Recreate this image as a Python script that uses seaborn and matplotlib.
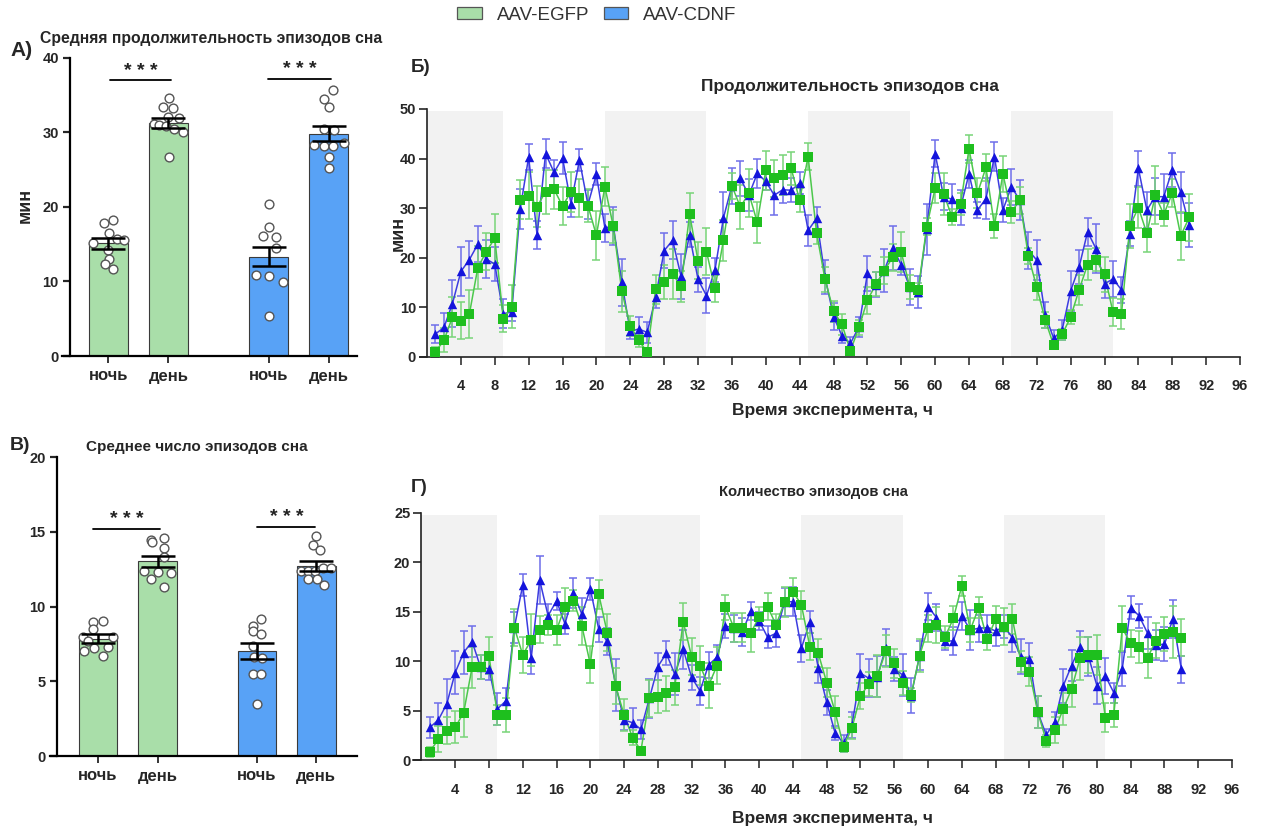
import numpy as np
import pandas as pd
import matplotlib
matplotlib.use("Agg")
import matplotlib.pyplot as plt
import seaborn as sns
from matplotlib.patches import Patch

# ---------------- data ----------------
GROUPS = ["AAV-EGFP", "AAV-CDNF"]
PERIODS = ["ночь", "день", "ночь", "день"]

# mean sleep-episode duration, min (night/day per group)
DUR_MEAN = [15.1, 31.3, 13.3, 29.8]
DUR_SEM = [0.70, 0.67, 1.27, 1.00]
DUR_DOTS = [
    [17.79, 18.28, 16.54, 15.20, 15.69, 15.60, 14.20, 12.96, 12.30, 11.70],
    [34.55, 33.34, 33.21, 32.09, 31.87, 31.11, 30.97, 30.84, 30.39, 29.99, 26.73],
    [20.42, 17.30, 16.04, 15.91, 14.48, 10.91, 10.73, 9.97, 5.32],
    [35.62, 34.50, 33.34, 30.44, 30.30, 28.29, 28.16, 28.20, 28.60, 26.64, 25.21],
]
DUR_JITTER = [
    [-0.075, 0.069, 0.003, -0.258, 0.142, 0.264, -0.005, 0.003, -0.058, 0.075],
    [0.003, -0.092, 0.081, 0.0, 0.169, -0.247, -0.158, -0.047, 0.086, 0.242, 0.003],
    [0.008, 0.008, -0.097, 0.119, 0.114, -0.208, 0.003, 0.231, 0.003],
    [0.069, -0.086, 0.003, -0.081, 0.081, -0.247, -0.081, 0.075, 0.247, 0.003, 0.003],
]

# mean number of sleep episodes
CNT_MEAN = [7.86, 13.04, 7.03, 12.72]
CNT_SEM = [0.28, 0.37, 0.54, 0.36]
CNT_DOTS = [
    [9.00, 9.02, 8.48, 7.95, 7.95, 7.68, 7.30, 7.21, 7.01, 6.72],
    [14.46, 14.31, 14.62, 13.91, 13.35, 12.41, 12.34, 12.25, 11.83, 11.34],
    [9.20, 8.73, 8.35, 8.19, 7.37, 6.65, 6.56, 5.51, 5.51, 3.50],
    [14.71, 14.13, 13.79, 12.39, 12.39, 12.39, 12.61, 12.61, 11.85, 11.85, 11.43],
]
CNT_JITTER = [
    [-0.087, 0.076, -0.076, -0.249, 0.249, -0.176, 0.165, -0.070, -0.238, 0.092],
    [-0.104, -0.098, 0.109, 0.115, 0.109, -0.221, 0.003, 0.227, -0.104, 0.115],
    [0.064, -0.059, -0.064, 0.064, -0.064, -0.053, 0.081, -0.064, 0.064, 0.0],
    [0.0, -0.059, 0.064, -0.266, -0.143, -0.020, 0.109, 0.249, -0.143, 0.008, 0.132],
]

# hourly time course (hour 1..90)
HOURS = np.arange(1, 91)
NIGHTS = [(0, 9), (21, 33), (45, 57), (69, 81)]

DUR_CDNF = [4.6, 5.9, 10.7, 17.2, 19.6, 22.7, 19.7, 18.7, 8.7, 9.0,
            29.8, 40.3, 24.5, 41.0, 37.2, 40.1, 30.9, 39.7, 30.7, 36.8,
            26.0, 26.4, 15.0, 5.1, 5.6, 4.9, 12.0, 21.4, 23.5, 16.2,
            24.6, 15.6, 12.3, 17.5, 28.0, 34.5, 36.0, 32.6, 37.0, 35.4,
            32.6, 33.7, 33.6, 35.0, 25.5, 27.9, 16.1, 8.1, 4.2, 2.7,
            6.0, 16.8, 14.5, 17.4, 22.0, 18.5, 14.1, 13.0, 25.7, 41.0,
            32.3, 31.8, 30.1, 36.9, 29.6, 31.9, 40.4, 29.6, 34.3, 31.6,
            21.5, 19.5, 8.4, 3.7, 5.4, 13.3, 18.1, 25.2, 21.8, 14.7,
            15.7, 13.5, 24.8, 38.0, 29.6, 32.3, 32.3, 37.7, 33.2, 26.6]
DUR_CDNF_ERR = [1.8, 2.9, 4.8, 5.0, 3.7, 3.6, 3.8, 3.5, 3.0, 1.7,
                4.1, 2.7, 2.8, 2.9, 2.6, 3.2, 2.8, 2.2, 2.9, 2.2,
                2.8, 3.9, 4.7, 1.6, 2.5, 2.2, 2.1, 3.5, 3.8, 4.6,
                2.5, 2.6, 3.5, 2.4, 5.2, 3.6, 3.5, 3.2, 3.0, 1.7,
                4.0, 2.6, 2.4, 2.2, 3.2, 2.4, 3.4, 2.7, 1.5, 1.2,
                2.1, 3.6, 2.5, 4.4, 4.4, 2.0, 3.7, 3.2, 5.2, 2.7,
                2.7, 3.0, 3.5, 2.8, 1.7, 4.1, 3.0, 2.4, 3.6, 4.0,
                3.7, 4.0, 2.7, 1.7, 2.0, 4.0, 3.4, 2.8, 4.9, 2.8,
                3.7, 2.6, 2.5, 3.5, 3.7, 3.7, 4.5, 3.4, 4.1, 4.4]
DUR_EGFP = [1.0, 3.3, 8.0, 7.3, 8.6, 18.0, 21.2, 23.9, 7.7, 10.1,
            31.7, 32.5, 30.3, 33.3, 33.8, 30.4, 33.3, 32.0, 30.5, 24.5,
            34.3, 26.3, 13.2, 6.2, 3.3, 0.9, 13.6, 15.1, 16.7, 14.2,
            28.8, 19.4, 21.2, 13.8, 23.5, 34.5, 30.2, 33.0, 27.1, 37.6,
            36.0, 36.7, 38.0, 31.6, 40.4, 25.0, 15.6, 9.2, 6.5, 1.2,
            5.9, 11.4, 14.6, 17.4, 20.1, 21.1, 14.1, 13.4, 26.2, 34.0,
            32.9, 28.2, 30.8, 41.9, 33.0, 38.2, 26.4, 36.9, 29.2, 31.6,
            20.4, 14.0, 7.4, 2.3, 4.5, 8.0, 13.5, 18.6, 19.6, 16.6,
            9.0, 8.6, 26.4, 30.1, 24.9, 32.6, 28.7, 33.0, 24.4, 28.1]
DUR_EGFP_ERR = [1.0, 2.4, 4.1, 3.7, 4.8, 4.3, 3.7, 5.0, 2.8, 4.3,
                4.0, 4.8, 4.2, 4.4, 3.9, 3.8, 4.0, 3.8, 3.4, 4.9,
                3.9, 3.4, 4.2, 2.0, 1.3, 0.7, 2.9, 3.4, 5.0, 3.1,
                4.2, 3.8, 4.8, 2.7, 4.1, 2.6, 4.5, 4.8, 4.2, 3.9,
                3.8, 4.0, 3.4, 2.4, 2.7, 2.2, 2.5, 2.1, 2.2, 0.8,
                1.5, 2.7, 2.4, 2.8, 2.7, 4.1, 2.4, 1.4, 1.7, 3.0,
                4.2, 1.7, 2.2, 2.9, 3.0, 2.8, 2.5, 3.7, 2.2, 2.7,
                1.6, 2.5, 1.7, 0.7, 1.1, 1.4, 3.0, 3.2, 2.4, 3.6,
                2.8, 3.0, 4.5, 4.2, 3.7, 5.8, 2.4, 2.8, 4.8, 4.7]

CNT_CDNF = [3.33, 4.07, 5.69, 8.86, 10.88, 11.99, 9.4, 9.23, 5.19, 6.0,
            13.4, 17.7, 10.3, 18.2, 14.6, 16.1, 13.77, 16.87, 14.75, 17.3,
            13.23, 12.0, 7.6, 4.07, 3.8, 3.13, 6.26, 9.46, 10.8, 8.69,
            11.2, 8.38, 7.0, 9.63, 10.4, 13.57, 13.33, 12.93, 15.08, 14.07,
            12.42, 12.83, 15.96, 16.03, 11.31, 14.0, 9.29, 5.84, 2.73, 1.72,
            3.6, 8.79, 8.28, 8.45, 11.38, 9.23, 8.62, 6.53, 10.57, 15.52,
            14.41, 12.05, 12.05, 14.58, 13.16, 13.33, 13.4, 13.06, 13.5, 12.39,
            10.47, 10.24, 4.85, 2.56, 3.9, 7.51, 9.56, 11.48, 10.47, 7.54,
            8.52, 6.83, 9.23, 15.42, 14.58, 12.83, 11.65, 11.72, 14.28, 9.19]
CNT_CDNF_ERR = [1.08, 1.7, 2.5, 2.2, 2.2, 1.6, 1.2, 1.1, 1.6, 1.3,
                1.6, 1.1, 1.6, 2.4, 1.2, 0.94, 1.0, 1.5, 1.6, 1.1,
                1.28, 1.35, 2.6, 1.0, 1.45, 0.95, 1.95, 1.4, 1.2, 2.1,
                2.0, 1.25, 1.45, 1.35, 1.25, 1.2, 1.35, 1.4, 0.95, 0.95,
                1.1, 1.35, 1.4, 1.45, 1.35, 1.1, 1.5, 1.25, 0.7, 0.85,
                1.3, 1.95, 1.9, 2.1, 1.9, 1.2, 2.1, 1.75, 1.5, 1.35,
                1.35, 0.95, 1.4, 1.45, 2.0, 1.35, 1.3, 1.5, 1.2, 1.45,
                1.75, 1.6, 1.6, 0.6, 1.0, 1.7, 1.6, 1.6, 1.95, 1.9,
                1.85, 1.0, 1.75, 1.2, 1.2, 1.6, 1.5, 1.7, 1.9, 1.35]
CNT_EGFP = [0.88, 2.12, 3.0, 3.33, 4.81, 9.39, 9.39, 10.57, 4.58, 4.58,
            13.4, 10.64, 12.15, 13.2, 13.67, 13.16, 15.5, 16.13, 13.57, 9.7,
            16.77, 12.9, 7.5, 4.58, 2.3, 0.98, 6.26, 6.43, 6.77, 7.37,
            14.0, 10.47, 9.56, 7.54, 9.56, 15.45, 13.4, 13.4, 12.83, 14.51,
            15.52, 13.67, 15.96, 17.04, 15.69, 11.48, 10.8, 7.84, 4.85, 1.38,
            3.3, 6.5, 7.71, 8.52, 11.04, 9.8, 7.84, 6.6, 10.57, 13.33,
            13.67, 12.42, 14.34, 17.61, 13.16, 15.42, 12.22, 14.24, 13.5, 14.24,
            9.97, 8.96, 4.85, 1.99, 3.06, 5.15, 7.2, 10.3, 10.64, 10.64,
            4.31, 4.58, 13.33, 11.82, 11.41, 10.37, 12.09, 12.76, 12.93, 12.39]
CNT_EGFP_ERR = [0.5, 1.3, 1.4, 1.6, 2.5, 2.1, 1.2, 1.9, 1.0, 1.7,
                1.9, 1.85, 2.6, 1.4, 1.0, 1.5, 1.9, 1.1, 1.95, 1.85,
                1.45, 1.85, 1.8, 1.6, 0.8, 0.4, 1.85, 1.7, 1.75, 1.75,
                1.85, 1.85, 2.0, 2.25, 1.9, 1.25, 1.45, 1.45, 1.85, 0.95,
                1.4, 1.1, 1.5, 1.35, 1.45, 1.4, 1.4, 1.45, 1.6, 0.5,
                1.1, 1.35, 1.25, 2.1, 1.6, 1.45, 1.2, 0.67, 1.65, 1.35,
                1.85, 1.1, 1.2, 1.0, 1.2, 1.1, 1.1, 1.35, 1.85, 1.5,
                1.1, 1.5, 1.6, 0.6, 1.35, 1.6, 1.8, 2.2, 1.85, 2.0,
                1.5, 1.25, 2.25, 1.35, 1.6, 2.1, 1.8, 1.75, 2.6, 1.85]

# ---------------- style ----------------
sns.set_theme(style="ticks")
plt.rcParams["font.family"] = ["Liberation Sans", "DejaVu Sans"]
plt.rcParams["font.weight"] = "bold"

W, H = 1261, 834
BAR_POS = [0.0, 1.0, 2.67, 3.67]
BAR_FILL = ["#a9dea9", "#a9dea9", "#58a2f6", "#58a2f6"]
EG_MARK, EG_LINE, EG_ERR = "#1ebf1e", "#4cc84c", "#78d478"
CD_MARK, CD_LINE, CD_ERR = "#1414dc", "#3c3ce0", "#6e6eea"
SHADE = "#f2f2f2"

fig = plt.figure(figsize=(W / 100, H / 100), dpi=100)


def px_axes(left, top, right, bottom):
    return fig.add_axes([left / W, 1 - bottom / H, (right - left) / W, (bottom - top) / H])


def ftext(x, y, s, **kw):
    fig.text(x / W, 1 - y / H, s, **kw)


def bar_panel(ax, means, sems, dots, jitter, ymax, ystep, xlim, spine_x, sigs):
    for i, (m, s) in enumerate(zip(means, sems)):
        ax.bar(BAR_POS[i], m, width=0.65, color=BAR_FILL[i], edgecolor="#3a3a3a",
               linewidth=0.8, zorder=1)
    frames = []
    for i, (vals, jit) in enumerate(zip(dots, jitter)):
        frames.append(pd.DataFrame({"x": np.array(jit) + BAR_POS[i], "y": vals}))
    df = pd.concat(frames, ignore_index=True)
    sns.scatterplot(data=df, x="x", y="y", ax=ax, marker="o", s=40, color="white",
                    edgecolor="#555555", linewidth=1.0, zorder=3, legend=False)
    ax.errorbar(BAR_POS, means, yerr=sems, fmt="none", ecolor="black", elinewidth=1.8,
                capsize=12, capthick=1.8, zorder=4)
    for x0, x1, y, ys in sigs:
        ax.plot([x0, x1], [y, y], color="black", lw=1.3, zorder=5)
        ax.text((x0 + x1) / 2, ys, "* * *", ha="center", va="center", fontsize=14,
                fontweight="bold", color="#222222")
    ax.set_xlim(*xlim)
    ax.set_ylim(0, ymax)
    ax.set_yticks(np.arange(0, ymax + 0.1, ystep))
    ax.set_xticks(BAR_POS)
    ax.set_xticklabels(PERIODS)
    ax.spines["left"].set_position(("data", spine_x))
    for side in ("top", "right"):
        ax.spines[side].set_visible(False)
    for side in ("left", "bottom"):
        ax.spines[side].set_linewidth(1.6)
        ax.spines[side].set_color("black")
    ax.tick_params(axis="y", length=5, width=1.6, pad=3, labelsize=10.5)
    ax.tick_params(axis="x", length=5, width=1.3, pad=4, labelsize=12)
    for lab in ax.get_xticklabels() + ax.get_yticklabels():
        lab.set_fontweight("bold")
    ax.set_xlabel("")
    ax.set_ylabel("")
    ax.set_facecolor("white")


def series_panel(ax, cd, cd_err, eg, eg_err, ymax, ystep, xmin):
    for a, b in NIGHTS:
        ax.axvspan(a, b, ymin=0, ymax=0.99, color=SHADE, lw=0, zorder=0)
    for vals, errs, line_c, err_c, mark_c, mk, size in (
            (cd, cd_err, CD_LINE, CD_ERR, CD_MARK, "^", 46),
            (eg, eg_err, EG_LINE, EG_ERR, EG_MARK, "s", 44)):
        ax.errorbar(HOURS, vals, yerr=errs, fmt="none", ecolor=err_c, elinewidth=1.1,
                    capsize=3, capthick=1.1, zorder=2)
        sns.lineplot(x=HOURS, y=vals, ax=ax, color=line_c, lw=1.1, zorder=3, legend=False)
        sns.scatterplot(x=HOURS, y=vals, ax=ax, marker=mk, s=size, color=mark_c,
                        linewidth=0, zorder=4, legend=False)
    ax.set_xlim(xmin, 96)
    ax.set_ylim(0, ymax)
    ax.set_xticks(np.arange(4, 97, 4))
    ax.set_yticks(np.arange(0, ymax + 0.1, ystep))
    ax.spines["left"].set_position(("data", 0))
    for side in ("top", "right"):
        ax.spines[side].set_visible(False)
    for side in ("left", "bottom"):
        ax.spines[side].set_linewidth(1.2)
        ax.spines[side].set_color("#222222")
    ax.tick_params(axis="x", length=6, width=1.2, pad=10, labelsize=10.5, color="#333333")
    ax.tick_params(axis="y", length=6, width=1.2, pad=2, labelsize=10.5)
    for lab in ax.get_xticklabels() + ax.get_yticklabels():
        lab.set_fontweight("bold")
    ax.set_xlabel("")
    ax.set_ylabel("")
    ax.set_facecolor("white")


# А) mean duration
axA = px_axes(62, 57.7, 357, 356)
bar_panel(axA, DUR_MEAN, DUR_SEM, DUR_DOTS, DUR_JITTER, 40, 10,
          (-0.775, 4.142), -0.642,
          [(0.02, 1.05, 37.0, 38.2), (2.66, 3.71, 37.2, 38.4)])

# В) mean count
axC = px_axes(50, 457.3, 357, 756)
bar_panel(axC, CNT_MEAN, CNT_SEM, CNT_DOTS, CNT_JITTER, 20, 5,
          (-0.807, 4.353), -0.694,
          [(-0.08, 1.04, 15.2, 15.85), (2.68, 3.65, 15.3, 15.95)])

# Б) duration time course
axB = px_axes(420, 109, 1240, 356.7)
series_panel(axB, DUR_CDNF, DUR_CDNF_ERR, DUR_EGFP, DUR_EGFP_ERR, 50, 10, -0.83)

# Г) count time course
axD = px_axes(413, 512.7, 1232, 760.3)
series_panel(axD, CNT_CDNF, CNT_CDNF_ERR, CNT_EGFP, CNT_EGFP_ERR, 25, 5, -1.0)

# ---------------- texts ----------------
ftext(10, 50, "А)", fontsize=15, fontweight="bold", va="center", ha="left")
ftext(40, 38, "Средняя продолжительность эпизодов сна", fontsize=11.3,
      fontweight="bold", va="center", ha="left")
ftext(25, 205, "мин", fontsize=13, fontweight="bold", rotation=90, va="center", ha="center")

ftext(411, 67, "Б)", fontsize=13.5, fontweight="bold", va="center", ha="left")
ftext(850, 87, "Продолжительность эпизодов сна", fontsize=12.4, fontweight="bold",
      va="center", ha="center")
ftext(398, 233, "мин", fontsize=13, fontweight="bold", rotation=90, va="center", ha="center")
ftext(832, 410, "Время эксперимента, ч", fontsize=12.5, fontweight="bold",
      va="center", ha="center")

ftext(10, 445, "В)", fontsize=14, fontweight="bold", va="center", ha="left")
ftext(197, 447, "Среднее число эпизодов сна", fontsize=11, fontweight="bold",
      va="center", ha="center")

ftext(411, 488, "Г)", fontsize=13.5, fontweight="bold", va="center", ha="left")
ftext(813, 492, "Количество эпизодов сна", fontsize=10.6, fontweight="bold",
      va="center", ha="center")
ftext(832, 818, "Время эксперимента, ч", fontsize=12.5, fontweight="bold",
      va="center", ha="center")

handles = [Patch(facecolor=BAR_FILL[0], edgecolor="#555555", linewidth=0.9),
           Patch(facecolor=BAR_FILL[2], edgecolor="#555555", linewidth=0.9)]
leg = fig.legend(handles, GROUPS, loc="center", bbox_to_anchor=(597 / W, 1 - 15 / H),
                 ncol=2, frameon=False, prop={"size": 13.5, "weight": "normal"},
                 handlelength=1.3, handleheight=0.6, handletextpad=0.8,
                 columnspacing=0.8)
for t in leg.get_texts():
    t.set_color("#333333")

fig.savefig("out.png", dpi=100, facecolor="white")
